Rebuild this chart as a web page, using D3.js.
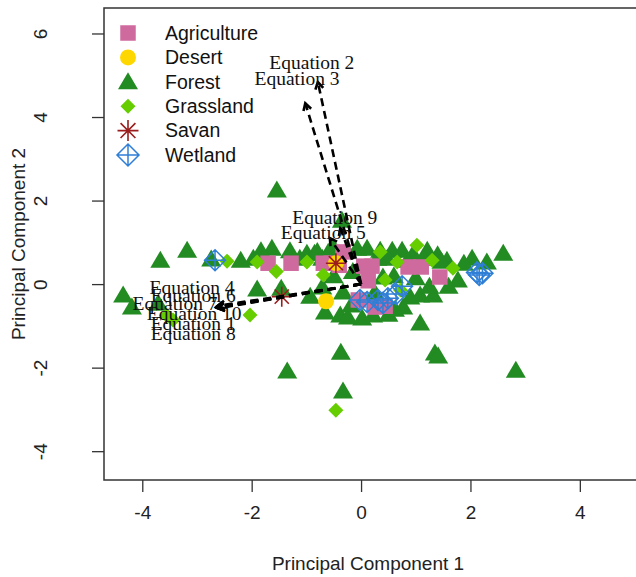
<!DOCTYPE html>
<html>
<head>
<meta charset="utf-8">
<script src="https://cdn.jsdelivr.net/npm/d3@7"></script>
<style>
  html, body { margin: 0; padding: 0; background: #fff; }
  svg { display: block; }
</style>
</head>
<body>
<script>
// ---------------- DATA ----------------
const categories = ["Agriculture", "Desert", "Forest", "Grassland", "Savan", "Wetland"];

const agricultureX = [-1.70, -1.28, -0.69, -0.33, -0.40, 0.05, 0.20, 0.13, 0.86, 1.10, 1.44, -0.05, 0.26, 0.44, -0.55];
const agricultureY = [0.50, 0.50, 0.50, 0.77, 0.45, 0.43, 0.43, 0.08, 0.41, 0.41, 0.17, -0.38, -0.55, -0.53, 0.50];

const desertX = [-0.46, -0.64];
const desertY = [0.50, -0.41];

const forestX = [-4.35, -4.19, -3.67, -3.18, -2.74, -3.71, -1.97, -1.90, -1.63, -1.54, -1.46, -1.35, -1.12, -0.99,
  -0.71, -0.51, -0.35, -0.26, -0.07, 0.11, -0.37, -0.33, -0.93, -0.71, -0.66, -0.38, -0.24, 0.02, 0.22, -0.33,
  0.35, 0.57, 0.75, 1.21, 1.57, 2.03, 2.30, 2.60, 1.77, 0.40, 0.77, 0.90, 1.08, 1.32, 1.08, 1.35, 1.41, 2.83,
  -0.85, 0.95, 1.40, 1.00, 0.60, -0.15, 0.25, 1.60, -0.50,
  0.48, 0.85, 1.15, 1.47, 1.88, -0.60, -1.30, -1.83, -0.18, 0.50, 0.62, 1.25, -2.20, 0.30, -0.80];
const forestY = [-0.26, -0.55, 0.57, 0.81, 0.60, -0.46, 0.62, -0.12, 0.86, 2.25, -0.10, -2.08, 0.62, 0.74,
  0.62, 0.89, 1.53, 0.81, 0.86, 0.86, -1.63, -2.56, -0.29, -0.07, -0.67, -0.74, -0.79, -0.81, -0.74, -0.19,
  0.81, 0.81, 0.81, 0.81, 0.57, 0.62, 0.53, 0.74, 0.10, 0.17, -0.55, -0.31, -0.26, -0.26, -0.93, -1.65, -1.72, -2.06,
  0.74, 0.72, 0.70, 0.15, 0.20, 0.30, -0.20, -0.05, 0.20,
  0.62, 0.57, 0.62, 0.55, 0.50, 0.76, 0.80, 0.80, -0.50, -0.72, -0.60, -0.05, 0.57, 0.62, 0.78];

const grasslandX = [-2.45, -2.03, -3.44, -3.55, -1.90, -0.99, -0.69, 0.35, 0.66, 1.02, 1.30, 1.68, 0.44, 0.72, -0.46, -1.55];
const grasslandY = [0.55, -0.74, -0.86, -0.75, 0.53, 0.53, 0.22, 0.77, 0.53, 0.93, 0.57, 0.38, 0.10, -0.14, -3.02, 0.30];

const savanX = [-0.46, -1.45];
const savanY = [0.50, -0.30];

const wetlandX = [-2.67, -0.02, 0.11, 0.31, 0.49, 0.64, 0.75, 2.12, 2.22, 2.16, 0.40];
const wetlandY = [0.57, -0.38, -0.43, -0.38, -0.34, -0.24, -0.05, 0.28, 0.26, 0.22, -0.45];

const equationNames = ["Equation 1", "Equation 2", "Equation 3", "Equation 4", "Equation 5",
  "Equation 6", "Equation 7", "Equation 8", "Equation 9", "Equation 10"];
const loadingX = [-2.62, -0.79, -1.02, -2.62, -0.57, -2.64, -2.65, -2.63, -0.38, -2.63];
const loadingY = [-0.58, 4.84, 4.33, -0.52, 1.10, -0.56, -0.55, -0.56, 1.34, -0.57];
const labelX = [-3.07, -0.90, -1.17, -3.09, -0.69, -3.07, -3.40, -3.07, -0.48, -3.05];
const labelY = [-0.93, 5.32, 4.93, -0.07, 1.25, -0.26, -0.46, -1.17, 1.60, -0.69];

const xTicks = [-4, -2, 0, 2, 4];
const yTicks = [-4, -2, 0, 2, 4, 6];
const xTitle = "Principal Component 1";
const yTitle = "Principal Component 2";

// ---------------- LAYOUT ----------------
const W = 636, H = 577;
const plot = { left: 104, top: 8, right: 640, bottom: 480 };

const x = d3.scaleLinear().domain([-4.70, 5.10]).range([plot.left, plot.right]);
const y = d3.scaleLinear().domain([-4.69, 6.61]).range([plot.bottom, plot.top]);

const colors = {
  Agriculture: "#cf6a9e",
  Desert: "#ffd700",
  Forest: "#228b22",
  Grassland: "#66cd00",
  Savan: "#9b1c1c",
  Wetland: "#2f7fd6"
};

const svg = d3.select("body").append("svg")
  .attr("width", W).attr("height", H)
  .attr("viewBox", `0 0 ${W} ${H}`);

const sans = "'Liberation Sans', Arial, Helvetica, sans-serif";
const serif = "'Liberation Serif', 'Times New Roman', serif";

// ---------------- MARKERS ----------------
function drawMarker(g, type, cx, cy, scale = 1) {
  const c = colors[type];
  if (type === "Agriculture") {
    const s = 15.5 * scale;
    g.append("rect").attr("x", cx - s / 2).attr("y", cy - s / 2).attr("width", s).attr("height", s).attr("fill", c);
  } else if (type === "Desert") {
    g.append("circle").attr("cx", cx).attr("cy", cy).attr("r", 8 * scale).attr("fill", c);
  } else if (type === "Forest") {
    const w = 10 * scale, h1 = 9.5 * scale, h2 = 7.5 * scale;
    g.append("path").attr("d", `M${cx},${cy - h1}L${cx + w},${cy + h2}L${cx - w},${cy + h2}Z`).attr("fill", c);
  } else if (type === "Grassland") {
    const r = 7.5 * scale;
    g.append("path").attr("d", `M${cx},${cy - r}L${cx + r},${cy}L${cx},${cy + r}L${cx - r},${cy}Z`).attr("fill", c);
  } else if (type === "Savan") {
    const r = 10 * scale, d = r * 0.7071;
    g.append("path")
      .attr("d", `M${cx - r},${cy}L${cx + r},${cy}M${cx},${cy - r}L${cx},${cy + r}` +
        `M${cx - d},${cy - d}L${cx + d},${cy + d}M${cx - d},${cy + d}L${cx + d},${cy - d}`)
      .attr("stroke", c).attr("stroke-width", 1.6).attr("fill", "none");
  } else if (type === "Wetland") {
    const r = 10.5 * scale;
    g.append("path")
      .attr("d", `M${cx},${cy - r}L${cx + r},${cy}L${cx},${cy + r}L${cx - r},${cy}Z` +
        `M${cx - r},${cy}L${cx + r},${cy}M${cx},${cy - r}L${cx},${cy + r}`)
      .attr("stroke", c).attr("stroke-width", 1.5).attr("fill", "none");
  }
}

// ---------------- POINTS ----------------
const pts = svg.append("g").attr("class", "points");
const seriesOrder = [
  ["Forest", forestX, forestY],
  ["Agriculture", agricultureX, agricultureY],
  ["Grassland", grasslandX, grasslandY],
  ["Wetland", wetlandX, wetlandY],
  ["Desert", desertX, desertY],
  ["Savan", savanX, savanY]
];
seriesOrder.forEach(([type, xs, ys]) => {
  xs.forEach((vx, i) => drawMarker(pts, type, x(vx), y(ys[i])));
});

// ---------------- ARROWS ----------------
const arrows = svg.append("g").attr("class", "arrows");
equationNames.forEach((name, i) => {
  const x0 = x(0), y0 = y(0), x1 = x(loadingX[i]), y1 = y(loadingY[i]);
  arrows.append("line")
    .attr("x1", x0).attr("y1", y0).attr("x2", x1).attr("y2", y1)
    .attr("stroke", "#000").attr("stroke-width", 2.6)
    .attr("stroke-dasharray", "8,5");
  const ang = Math.atan2(y1 - y0, x1 - x0);
  const L = 8, a = Math.PI / 6;
  const p1 = [x1 - L * Math.cos(ang - a), y1 - L * Math.sin(ang - a)];
  const p2 = [x1 - L * Math.cos(ang + a), y1 - L * Math.sin(ang + a)];
  arrows.append("path")
    .attr("d", `M${p1[0]},${p1[1]}L${x1},${y1}L${p2[0]},${p2[1]}`)
    .attr("stroke", "#000").attr("stroke-width", 2.6).attr("fill", "none");
});

const labels = svg.append("g").attr("class", "eq-labels");
equationNames.forEach((name, i) => {
  labels.append("text")
    .attr("x", x(labelX[i])).attr("y", y(labelY[i]))
    .attr("dy", "0.35em")
    .attr("text-anchor", "middle")
    .attr("font-family", serif).attr("font-size", 19.5)
    .attr("fill", "#111")
    .text(name);
});

// ---------------- AXES ----------------
svg.append("rect")
  .attr("x", plot.left).attr("y", plot.top)
  .attr("width", plot.right - plot.left).attr("height", plot.bottom - plot.top)
  .attr("fill", "none").attr("stroke", "#333").attr("stroke-width", 1.5);

const xAxis = d3.axisBottom(x).tickValues(xTicks).tickSize(12).tickPadding(14)
  .tickFormat(d3.format("d"));
const gx = svg.append("g").attr("transform", `translate(0,${plot.bottom})`).call(xAxis);
gx.select(".domain").remove();
gx.selectAll("line").attr("stroke", "#333").attr("stroke-width", 1.3);
gx.selectAll("text").attr("font-family", sans).attr("font-size", 19).attr("fill", "#222")
  .text(d => d < 0 ? "-" + Math.abs(d) : d);

const yAxis = d3.axisLeft(y).tickValues(yTicks).tickSize(12).tickPadding(0)
  .tickFormat(d3.format("d"));
const gy = svg.append("g").attr("transform", `translate(${plot.left},0)`).call(yAxis);
gy.select(".domain").remove();
gy.selectAll("line").attr("stroke", "#333").attr("stroke-width", 1.3);
gy.selectAll("text")
  .attr("font-family", sans).attr("font-size", 19).attr("fill", "#222")
  .attr("x", null).attr("dy", null)
  .attr("text-anchor", "middle")
  .attr("transform", "translate(-64,0) rotate(-90)")
  .attr("dy", "0.35em")
  .text(d => d < 0 ? "-" + Math.abs(d) : d);

svg.append("text")
  .attr("x", 368).attr("y", 563).attr("dy", "0.35em")
  .attr("text-anchor", "middle")
  .attr("font-family", sans).attr("font-size", 19).attr("fill", "#222")
  .text(xTitle);

svg.append("text")
  .attr("transform", `translate(18,${244}) rotate(-90)`)
  .attr("dy", "0.35em")
  .attr("text-anchor", "middle")
  .attr("font-family", sans).attr("font-size", 19).attr("fill", "#222")
  .text(yTitle);

// ---------------- LEGEND ----------------
const legend = svg.append("g").attr("class", "legend");
categories.forEach((cat, i) => {
  const ly = 33 + i * 24.4;
  drawMarker(legend, cat, 128, ly, cat === "Savan" || cat === "Wetland" ? 1.05 : 1);
  legend.append("text")
    .attr("x", 165).attr("y", ly).attr("dy", "0.35em")
    .attr("font-family", sans).attr("font-size", 19.5).attr("fill", "#111")
    .text(cat);
});
</script>
</body>
</html>
